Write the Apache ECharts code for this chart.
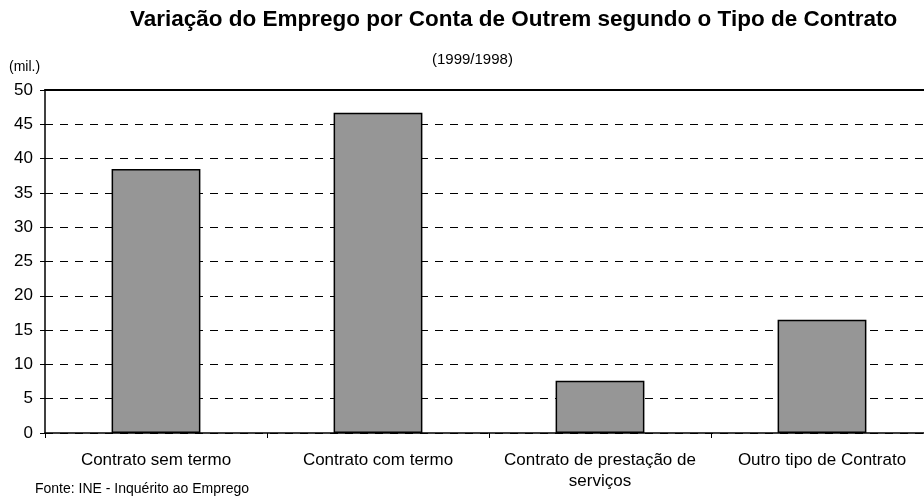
<!DOCTYPE html>
<html>
<head>
<meta charset="utf-8">
<script src="https://cdn.jsdelivr.net/npm/echarts@6/dist/echarts.min.js"></script>
<style>html,body{margin:0;padding:0;background:#fff}#c{width:924px;height:501px}</style>
</head>
<body>
<div id="c"></div>
<script>
const categories = ["Contrato sem termo", "Contrato com termo", "Contrato de prestação de\nserviços", "Outro tipo de Contrato"];
const values = [38.5, 46.7, 7.6, 16.5];
const yTicks = { min: 0, max: 50, interval: 5 };
const titleText = "Variação do Emprego por Conta de Outrem segundo o Tipo de Contrato";
const subtitleText = "(1999/1998)";
const unitText = "(mil.)";
const sourceText = "Fonte: INE - Inquérito ao Emprego";

const chart = echarts.init(document.getElementById('c'), null, {renderer: 'canvas'});
const font = '"Liberation Sans", Arial, sans-serif';
chart.setOption({
  animation: false,
  backgroundColor: '#fff',
  textStyle: { fontFamily: font },
  graphic: [
    { type: 'text', left: 130, top: 8, style: { text: titleText, font: 'bold 22.5px ' + font, fill: '#000' } },
    { type: 'text', left: 432, top: 52, style: { text: subtitleText, font: '15px ' + font, fill: '#000' } },
    { type: 'text', left: 9, top: 60, style: { text: unitText, font: '14px ' + font, fill: '#000' } },
    { type: 'text', left: 35, top: 482, style: { text: sourceText, font: '14px ' + font, fill: '#000' } }
  ],
  grid: { left: 45, top: 90, width: 888, bottom: 68, containLabel: false, outerBoundsMode: 'none' },
  xAxis: [{
    type: 'category',
    data: categories,
    axisLine: { lineStyle: { color: '#000', width: 1.5 } },
    axisTick: { show: true, alignWithLabel: false, length: 5, lineStyle: { color: '#000' } },
    axisLabel: { color: '#000', fontSize: 17, fontFamily: font, margin: 17, lineHeight: 21, interval: 0 }
  }, {
    type: 'category',
    position: 'top',
    data: categories,
    axisLine: { show: true, lineStyle: { color: '#000', width: 2 } },
    axisTick: { show: false },
    axisLabel: { show: false }
  }],
  yAxis: {
    type: 'value',
    min: yTicks.min, max: yTicks.max, interval: yTicks.interval,
    axisLine: { show: true, lineStyle: { color: '#000', width: 1.5 } },
    axisTick: { show: true, length: 5, lineStyle: { color: '#000' } },
    axisLabel: { color: '#000', fontSize: 17, fontFamily: font, margin: 12 },
    splitLine: { show: true, lineStyle: { color: '#000', type: [8, 7], width: 1 } }
  },
  series: [{
    type: 'bar',
    data: values,
    xAxisIndex: 0,
    barCategoryGap: '60%',
    itemStyle: { color: '#969696', borderColor: '#000', borderWidth: 1.5 }
  }]
});
</script>
</body>
</html>
